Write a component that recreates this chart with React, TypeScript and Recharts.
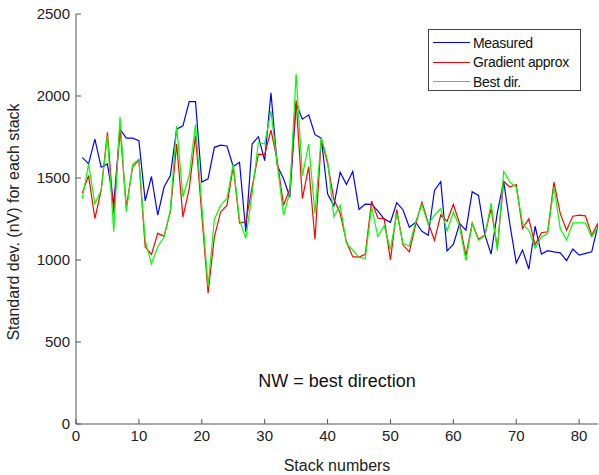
import React from 'react';
import {
  LineChart,
  Line,
  XAxis,
  YAxis,
  Legend,
  Label,
  Customized,
} from 'recharts';

const stacks: number[] = Array.from({ length: 83 }, (_, i) => i + 1);

const measured: number[] = [
  1626, 1586, 1737, 1566, 1586, 1339, 1798, 1743, 1743, 1727,
  1360, 1509, 1273, 1445, 1515, 1798, 1818, 1966, 1966, 1475,
  1495, 1687, 1700, 1695, 1570, 1596, 1172, 1707, 1752, 1606,
  2020, 1576, 1495, 1384, 1954, 1859, 1885, 1764, 1743, 1404,
  1330, 1535, 1461, 1540, 1309, 1341, 1339, 1300, 1250, 1230,
  1350, 1305, 1200, 1230, 1175, 1151, 1424, 1477, 1055, 1095,
  1222, 1182, 1416, 1394, 1155, 1036, 1290, 1480, 1215, 982,
  1061, 945, 1206, 1036, 1057, 1050, 1044, 996, 1067, 1030,
  1040, 1050, 1212,
];

const gradientApprox: number[] = [
  1408, 1515, 1253, 1424, 1778, 1283, 1808, 1323, 1566, 1610,
  1081, 1034, 1162, 1146, 1293, 1707, 1263, 1434, 1758, 1280,
  798, 1141, 1293, 1333, 1570, 1226, 1232, 1445, 1646, 1642,
  1792, 1606, 1333, 1434, 1974, 1374, 1570, 1125, 1737, 1590,
  1370, 1285, 1111, 1020, 1018, 1034, 1360, 1255, 1252, 1000,
  1308, 1091, 1050, 1215, 1353, 1227, 1119, 1276, 1236, 1340,
  1222, 1025, 1224, 1126, 1151, 1313, 1073, 1480, 1445, 1460,
  1192, 1252, 1091, 1166, 1172, 1475, 1283, 1182, 1267, 1273,
  1269, 1151, 1226,
];

const bestDir: number[] = [
  1374, 1586, 1343, 1424, 1758, 1172, 1873, 1293, 1582, 1614,
  1121, 976, 1081, 1140, 1303, 1818, 1384, 1515, 1828, 1330,
  838, 1247, 1333, 1374, 1586, 1244, 1131, 1404, 1717, 1707,
  1909, 1586, 1273, 1414, 2135, 1515, 1707, 1283, 1747, 1606,
  1263, 1333, 1101, 1061, 1016, 1010, 1325, 1143, 1210, 1063,
  1283, 1101, 1085, 1232, 1336, 1219, 1273, 1313, 1177, 1293,
  1202, 996, 1222, 1121, 1145, 1347, 1057, 1540, 1475, 1444,
  1222, 1182, 1071, 1141, 1162, 1444, 1192, 1121, 1226, 1226,
  1226, 1141, 1202,
];

const xTicks: number[] = [0, 10, 20, 30, 40, 50, 60, 70, 80];
const yTicks: number[] = [0, 500, 1000, 1500, 2000, 2500];

const seriesNames = ['Measured', 'Gradient approx', 'Best dir.'];
const seriesColors = ['#0000ff', '#ff0000', '#00ff00'];

const data = stacks.map((s, i) => ({
  x: s,
  measured: measured[i],
  gradient: gradientApprox[i],
  best: bestDir[i],
}));

const FONT = '"Liberation Sans", Arial, sans-serif';
const AXIS = '#555555';

const LegendBox = () => (
  <div
    style={{
      border: '1px solid #444',
      background: '#fff',
      width: 153,
      height: 62,
      boxSizing: 'border-box',
      paddingTop: 3,
      fontFamily: FONT,
      fontSize: 14,
      color: '#111',
    }}
  >
    {seriesNames.map((n, i) => (
      <div key={n} style={{ display: 'flex', alignItems: 'center', height: 19.5 }}>
        <div style={{ width: 37, height: 0, borderTop: `1px solid ${seriesColors[i]}`, marginLeft: 4, marginRight: 3 }} />
        <span style={{ whiteSpace: 'nowrap', letterSpacing: -0.3 }}>{n}</span>
      </div>
    ))}
  </div>
);

const Annotation = () => (
  <text
    x={337}
    y={387}
    textAnchor="middle"
    fontFamily={FONT}
    fontSize={18}
    fill="#111"
  >
    NW = best direction
  </text>
);

export default function App() {
  return (
    <div style={{ position: 'absolute', left: 0, top: 0, width: 599, height: 475, background: '#fff' }}>
      <LineChart
        width={599}
        height={475}
        data={data}
        margin={{ top: 14, right: 1, left: 0, bottom: 0 }}
      >
        <XAxis
          xAxisId="b"
          dataKey="x"
          type="number"
          domain={[0, 83]}
          ticks={xTicks}
          allowDataOverflow
          height={51}
          tickSize={-5}
          tickMargin={11}
          stroke={AXIS}
          tick={{ fill: '#222', fontSize: 15, fontFamily: FONT }}
        >
          <Label
            content={() => (
              <text x={337} y={471} textAnchor="middle" fontFamily={FONT} fontSize={16} fill="#222">
                Stack numbers
              </text>
            )}
          />
        </XAxis>
        <XAxis
          xAxisId="t"
          orientation="top"
          dataKey="x"
          type="number"
          domain={[0, 83]}
          ticks={xTicks}
          allowDataOverflow
          height={0}
          tickSize={-5}
          stroke={AXIS}
          tickFormatter={() => ''}
        />
        <YAxis
          yAxisId="l"
          type="number"
          domain={[0, 2500]}
          ticks={yTicks}
          width={76}
          tickSize={-5}
          tickMargin={11}
          stroke={AXIS}
          tick={{ fill: '#222', fontSize: 15, fontFamily: FONT }}
        >
          <Label
            content={() => (
              <text
                x={19}
                y={222}
                transform="rotate(-90, 19, 222)"
                textAnchor="middle"
                fontFamily={FONT}
                fontSize={16}
                fill="#222"
              >
                Standard dev. (nV) for each stack
              </text>
            )}
          />
        </YAxis>
        <YAxis
          yAxisId="r"
          orientation="right"
          type="number"
          domain={[0, 2500]}
          ticks={yTicks}
          width={0}
          tickSize={-5}
          stroke={AXIS}
          tickFormatter={() => ''}
        />
        <Line
          xAxisId="b"
          yAxisId="l"
          type="linear"
          dataKey="measured"
          name="Measured"
          stroke={seriesColors[0]}
          strokeWidth={1.2}
          dot={false}
          isAnimationActive={false}
        />
        <Line
          xAxisId="b"
          yAxisId="l"
          type="linear"
          dataKey="gradient"
          name="Gradient approx"
          stroke={seriesColors[1]}
          strokeWidth={1.2}
          dot={false}
          isAnimationActive={false}
        />
        <Line
          xAxisId="b"
          yAxisId="l"
          type="linear"
          dataKey="best"
          name="Best dir."
          stroke={seriesColors[2]}
          strokeWidth={1.2}
          dot={false}
          isAnimationActive={false}
        />
        <Legend
          layout="vertical"
          align="center"
          verticalAlign="middle"
          content={() => <LegendBox />}
          wrapperStyle={{ position: 'absolute', left: 428, top: 29, width: 153, height: 62 }}
        />
        <Customized component={Annotation} />
      </LineChart>
    </div>
  );
}
